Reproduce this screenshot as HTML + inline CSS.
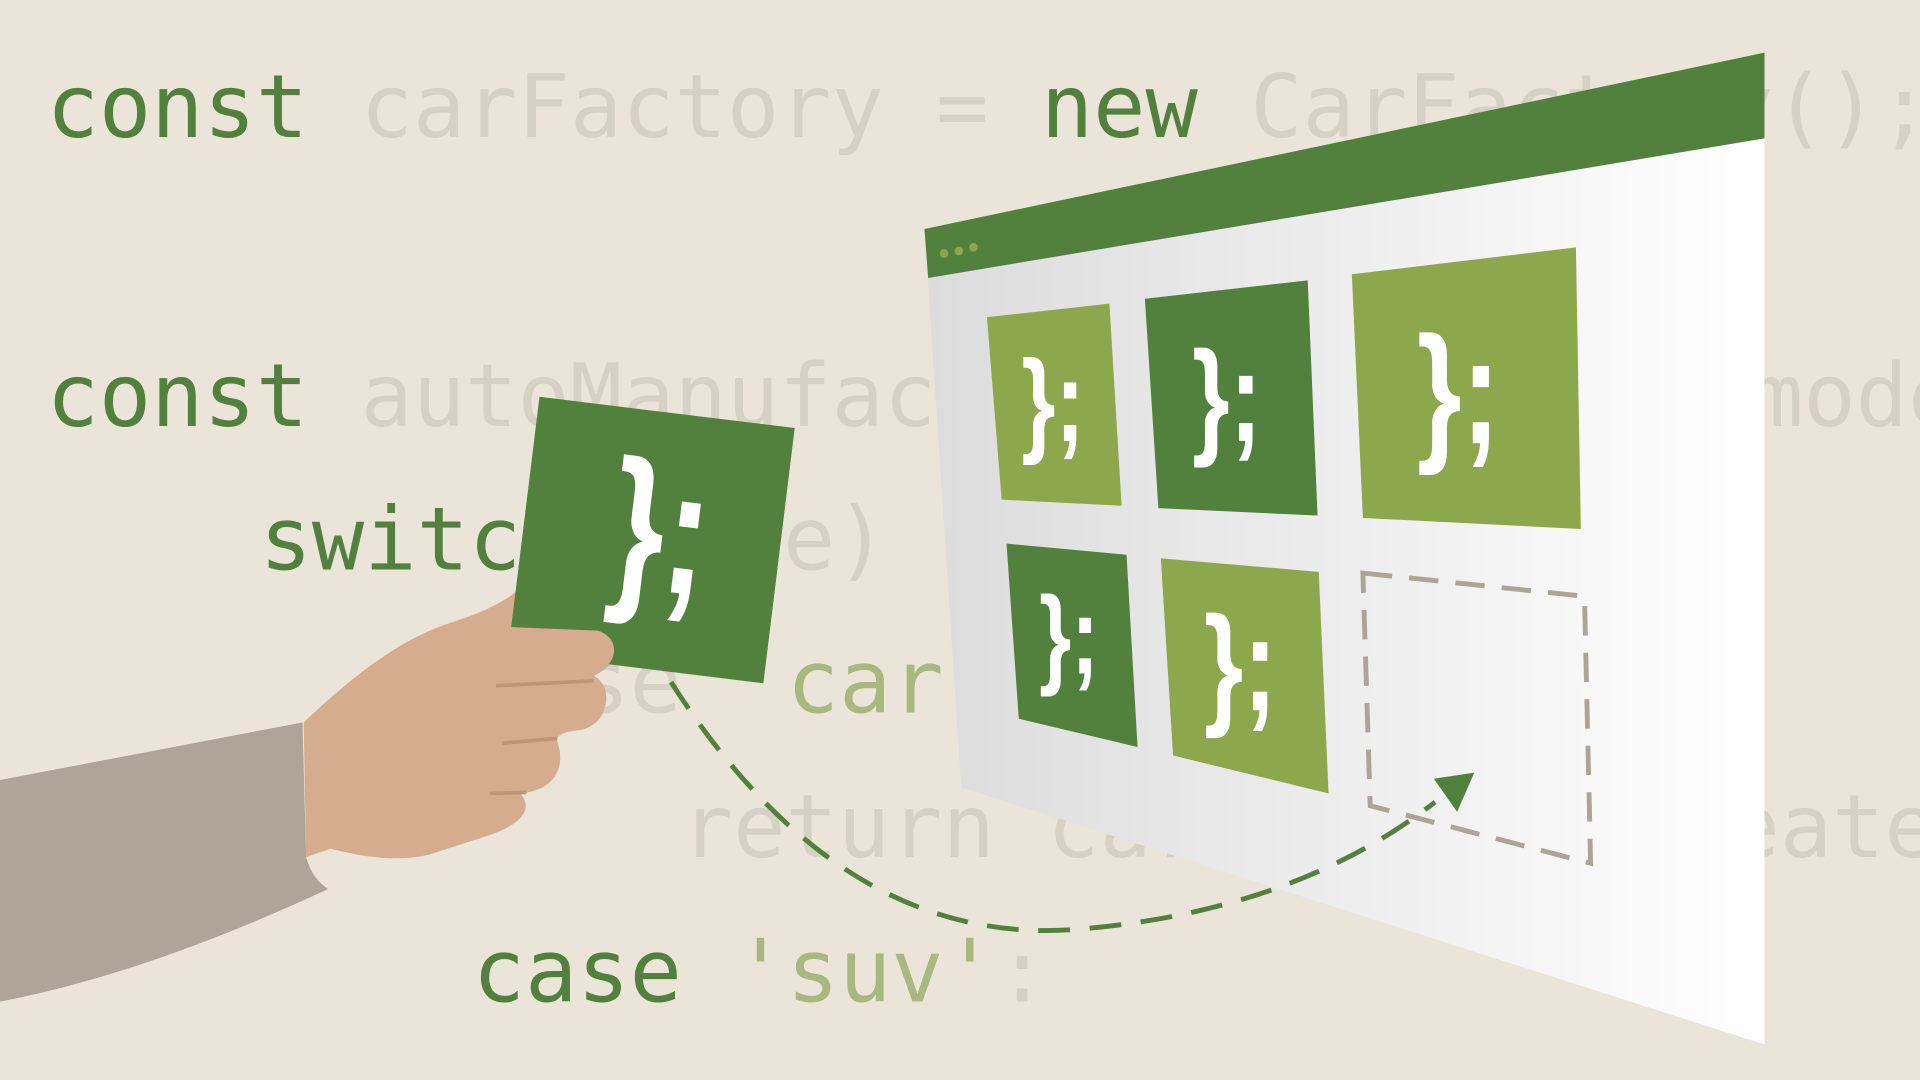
<!DOCTYPE html>
<html><head><meta charset="utf-8"><style>
html,body{margin:0;padding:0;background:#ebe5d9;overflow:hidden}
svg{display:block}
.c{font-family:"DejaVu Sans Mono","Liberation Mono",monospace;font-size:71px}
.g{fill:#52803d}.x{fill:#d6d1c5}.l{fill:#a9b87e}
.b{font-family:"Liberation Sans","DejaVu Sans",sans-serif;font-weight:bold;fill:#fff;text-anchor:middle}
</style></head><body>
<svg width="1920" height="1080" viewBox="0 0 1568 882" xmlns="http://www.w3.org/2000/svg">
<rect width="1568" height="882" fill="#ebe5d9"/>
<text class="c" x="38" y="112"><tspan class="g">const</tspan><tspan class="x"> carFactory = </tspan><tspan class="g">new</tspan><tspan class="x"> CarFactory();</tspan></text>
<text class="c" x="38" y="348"><tspan class="g">const</tspan><tspan class="x"> autoManufacturer</tspan></text>
<text class="c x" x="1430" y="348">model</text>
<text class="c" x="212" y="465"><tspan class="g">switch</tspan><tspan class="x">(type)</tspan></text>
<text class="c" x="386" y="582"><tspan class="x">case '</tspan><tspan class="l">car</tspan><tspan class="x">':</tspan></text>
<text class="c x" x="556" y="700">return carFactory.create</text>
<text class="c" x="386" y="818"><tspan class="g">case </tspan><tspan class="l">'suv'</tspan><tspan class="x">:</tspan></text>
<defs><linearGradient id="gr" x1="0" x2="1"><stop offset="0" stop-color="#dcdcdc"/><stop offset="1" stop-color="#ffffff"/></linearGradient></defs>
<polygon points="755,187 1441,43 1441,853 785,643" fill="url(#gr)"/>
<polygon points="755,187 1441,43 1441,113 758,227" fill="#52803d"/>
<circle cx="771" cy="207" r="3.5" fill="#8da84c"/><circle cx="783" cy="205" r="3.5" fill="#8da84c"/><circle cx="795" cy="202" r="3.5" fill="#8da84c"/>
<polygon points="806,259 906,248 916,413 818,408" fill="#8da84c"/>
<polygon points="935,244 1068,229 1076,421 946,415" fill="#52803d"/>
<polygon points="1104,224 1287,202 1291,432 1113,423" fill="#8da84c"/>
<polygon points="822,444 920,453 929,610 832,587" fill="#52803d"/>
<polygon points="948,456 1077,467 1085,648 958,617" fill="#8da84c"/>
<polygon points="1113,468 1294,487 1299,705 1119,658" fill="none" stroke="#aca496" stroke-width="4" stroke-dasharray="24,14"/>
<text class="b" font-size="95" transform="translate(860,360) scale(0.75,1)">};</text>
<text class="b" font-size="105" transform="translate(1002,360) scale(0.75,1)">};</text>
<text class="b" font-size="125" transform="translate(1191,362) scale(0.75,1)">};</text>
<text class="b" font-size="90" transform="translate(873,550) scale(0.75,1)">};</text>
<text class="b" font-size="110" transform="translate(1013,580) scale(0.75,1)">};</text>
<path d="M548,557 Q690,780 890,758 Q1060,742 1172,655" fill="none" stroke="#52803d" stroke-width="4" stroke-dasharray="26,16"/>
<polygon points="1171,636 1204,631 1190,663" fill="#52803d"/>
<path d="M0,637 L247,590 L250,700 Q255,718 268,726 Q120,795 0,818 Z" fill="#aca598"/>
<path d="M248,590 C290,550 330,520 370,508 C395,500 415,490 425,480 L470,470 L490,515 C505,520 510,540 485,552 C500,560 500,585 475,595 C460,598 455,600 455,605 C462,625 455,645 425,648 C435,660 428,672 400,682 L350,698 C320,705 290,698 270,693 L250,700 Z" fill="#d6ac8e"/>
<g transform="rotate(7 532 441)">
<rect x="427" y="336" width="210" height="210" fill="#52803d"/>
</g>
<text class="b" font-size="148" transform="translate(534,482) rotate(7) scale(0.75,1)">};</text>
<path d="M415,512 L488,515 C505,520 508,540 485,552 L400,560" fill="#d6ac8e"/>
<path d="M400,560 C430,552 460,555 480,556 C500,565 498,590 475,596 L410,606" fill="#d6ac8e"/>
<path d="M405,560 L485,556 M410,607 L455,603 M400,648 L430,647" stroke="#c0957a" stroke-width="3" fill="none"/>
</svg>
</body></html>
